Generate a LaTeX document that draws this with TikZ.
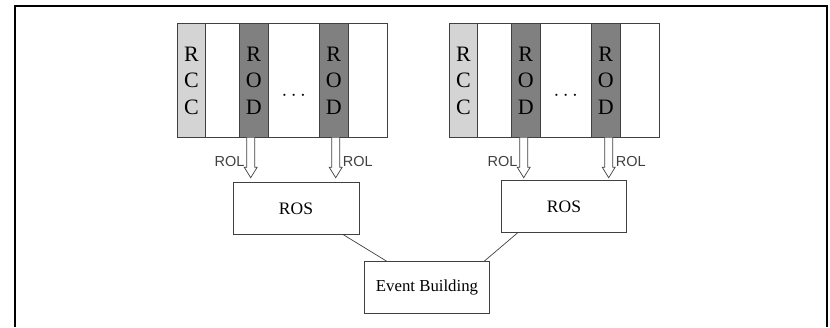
\documentclass[tikz,border=0pt]{standalone}
\usepackage{fontspec}
\setmainfont{Liberation Serif}
\newfontfamily\rolfont{Liberation Sans}
\definecolor{rcc}{HTML}{D4D4D4}
\definecolor{rod}{HTML}{808080}
\definecolor{edge}{HTML}{404040}
\begin{document}
\begin{tikzpicture}[x=1pt,y=-1pt,
  col/.style={draw=edge,line width=0.9pt,minimum height=113.5pt,inner sep=0pt,anchor=north west,
    align=center,font=\fontsize{22}{26.5}\selectfont},
  box/.style={draw=edge,line width=0.9pt,inner sep=0pt,font=\fontsize{17.5}{20}\selectfont},
  rol/.style={font=\rolfont\fontsize{14.5}{16}\selectfont,text=black!75,inner sep=0pt},
  link/.style={draw=edge,line width=0.7pt}]
\useasboundingbox (0,0) rectangle (830,327);
\draw[line width=2pt] (15,327) -- (15,6) -- (827,6) -- (827,327);
% crates
\foreach \c/\ox in {A/0,B/272}{
  \node[col,fill=rcc,minimum width=28pt] (\c rcc) at (177+\ox,23.3) {R\\C\\C};
  \node[col,fill=white,minimum width=34pt] (\c w1) at (205+\ox,23.3) {};
  \node[col,fill=rod,minimum width=28.5pt] (\c rod1) at (239+\ox,23.3) {R\\O\\D};
  \node[col,fill=white,minimum width=51.5pt] (\c w2) at (267.5+\ox,23.3) {};
  \node[col,fill=rod,minimum width=28.5pt] (\c rod2) at (319+\ox,23.3) {R\\O\\D};
  \node[col,fill=white,minimum width=39.5pt] (\c w3) at (347.5+\ox,23.3) {};
  \node[inner sep=0pt,font=\fontsize{21}{22}\selectfont] (\c dots) at ([yshift=-15pt]\c w2.center) {$\cdots$};
}
% ROS boxes
\node[box,minimum width=126pt,minimum height=51.5pt] (rosA) at (296,208.3) {ROS};
\node[box,minimum width=125.5pt,minimum height=51.5pt] (rosB) at (564,206.3) {ROS};
\node[box,minimum width=125.5pt,minimum height=51.5pt,font=\fontsize{16.8}{20}\selectfont] (eb) at (427,287.6) {Event Building};
% arrows
\foreach \r/\dx in {Arod1/-3, Arod2/2, Brod1/-2, Brod2/3}{
  \coordinate (\r t) at ([xshift=\dx pt]\r.south);
  \draw[edge,line width=0.7pt,fill=white]
    ([xshift=-4pt]\r t) -- ++(0,29.5) -- ++(-2.5,0) -- ++(6.5,10.5) -- ++(6.5,-10.5) -- ++(-2.5,0) -- ([xshift=4pt]\r t);
}
\node[rol,anchor=east] (l1) at ([xshift=-6pt,yshift=-24pt]Arod1t) {ROL};
\node[rol,anchor=west] (l2) at ([xshift=7pt,yshift=-24pt]Arod2t) {ROL};
\node[rol,anchor=east] (l3) at ([xshift=-6pt,yshift=-24pt]Brod1t) {ROL};
\node[rol,anchor=west] (l4) at ([xshift=7pt,yshift=-24pt]Brod2t) {ROL};
% links
\draw[link] ([xshift=47pt]rosA.south) -- ([xshift=-40pt]eb.north);
\draw[link] ([xshift=-46pt]rosB.south) -- ([xshift=57pt]eb.north);
\end{tikzpicture}
\end{document}
